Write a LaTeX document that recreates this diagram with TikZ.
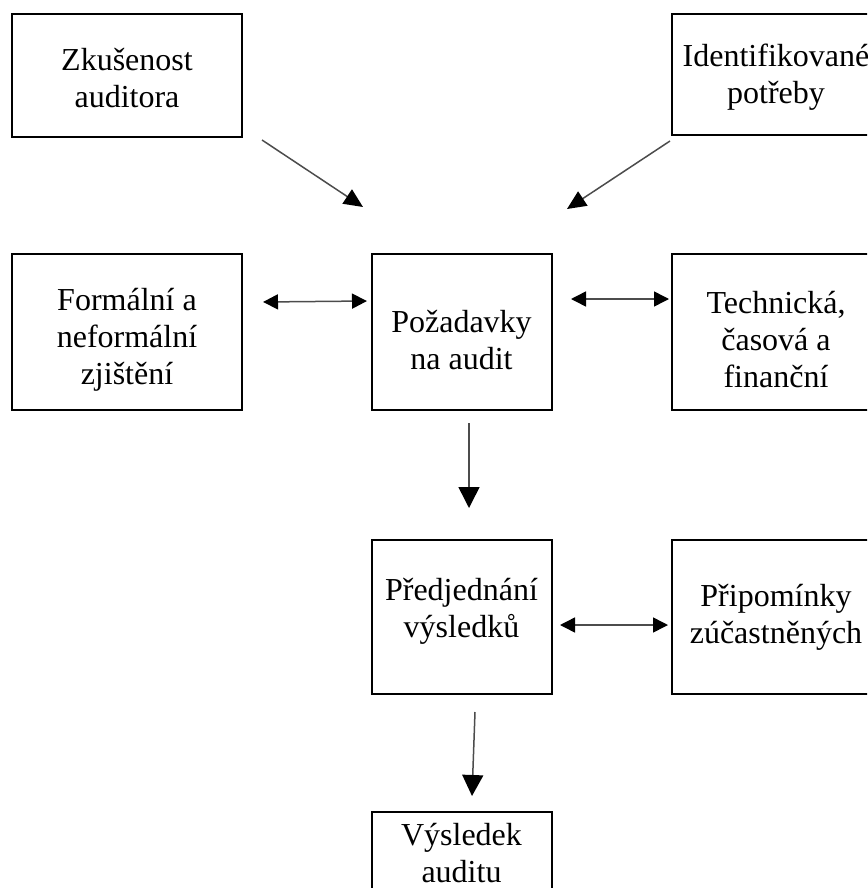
\documentclass[tikz,border=0pt]{standalone}
\usepackage{fontspec}
\setmainfont{Liberation Serif}
\usetikzlibrary{arrows.meta}
\tikzset{
  frame/.style={draw=black, line width=2pt, rectangle, inner sep=0pt, outer sep=0pt},
  label text/.style={inner sep=0pt, align=center, font=\fontsize{32}{37}\selectfont},
  conn/.style={draw=black!70, line width=1.5pt},
  onehead/.style={conn, -{Triangle[length=19pt,width=17pt,color=black,fill=black]}},
  bighead/.style={conn, -{Triangle[length=21pt,width=21pt,color=black,fill=black]}},
  twohead/.style={conn, {Triangle[length=15pt,width=15pt,color=black,fill=black]}-{Triangle[length=15pt,width=15pt,color=black,fill=black]}}
}
\begin{document}
\begin{tikzpicture}[x=1pt,y=-1pt]
\useasboundingbox (0,0) rectangle (867,888);
\clip (0,0) rectangle (867,888);
% frames
\node[frame, minimum width=230pt, minimum height=123pt] (zk) at (127,75.5) {};
\node[frame, minimum width=208pt, minimum height=121pt] (id) at (776,74.5) {};
\node[frame, minimum width=230pt, minimum height=156pt] (fo) at (127,332) {};
\node[frame, minimum width=180pt, minimum height=156pt] (po) at (461.5,332) {};
\node[frame, minimum width=208pt, minimum height=156pt] (te) at (776,332) {};
\node[frame, minimum width=180pt, minimum height=154pt] (pr) at (461.5,617) {};
\node[frame, minimum width=208pt, minimum height=154pt] (pi) at (776,617) {};
\node[frame, minimum width=180pt, minimum height=100pt] (vy) at (461.5,862) {};
% texts
\node[label text] (zkT) at ([yshift=-3pt]zk.center) {Zkušenost\\auditora};
\node[label text] (idT) at ([yshift=-3pt]id.center) {Identifikované\\potřeby};
\node[label text] (foT) at ([yshift=-8pt]fo.center) {Formální a\\neformální\\zjištění};
\node[label text] (poT) at ([yshift=-8pt]po.center) {Požadavky\\na audit};
\node[label text] (teT) at ([yshift=-8pt]te.center) {Technická,\\časová a\\finanční};
\node[label text] (prT) at ([yshift=6pt]pr.center) {Předjednání\\výsledků};
\node[label text] (piT) at (pi.center) {Připomínky\\zúčastněných};
\node[label text] (vyT) at (461.5,853) {Výsledek\\auditu};

% connector ends
\coordinate (a1s) at (262,140); \coordinate (a1e) at (363,207);
\coordinate (a2s) at (670,141); \coordinate (a2e) at (567,209);
\coordinate (b1s) at (263,302); \coordinate (b1e) at (367,301);
\coordinate (b2s) at (571,299); \coordinate (b2e) at (669,299);
\coordinate (c1s) at (469,423); \coordinate (c1e) at (469,508);
\coordinate (b3s) at (560,625); \coordinate (b3e) at (668,625);
\coordinate (c2s) at (475,712); \coordinate (c2e) at (472,796);

\draw[onehead] (a1s) -- (a1e);
\draw[onehead] (a2s) -- (a2e);
\draw[twohead] (b1s) -- (b1e);
\draw[twohead] (b2s) -- (b2e);
\draw[bighead] (c1s) -- (c1e);
\draw[twohead] (b3s) -- (b3e);
\draw[bighead] (c2s) -- (c2e);
\end{tikzpicture}
\end{document}
